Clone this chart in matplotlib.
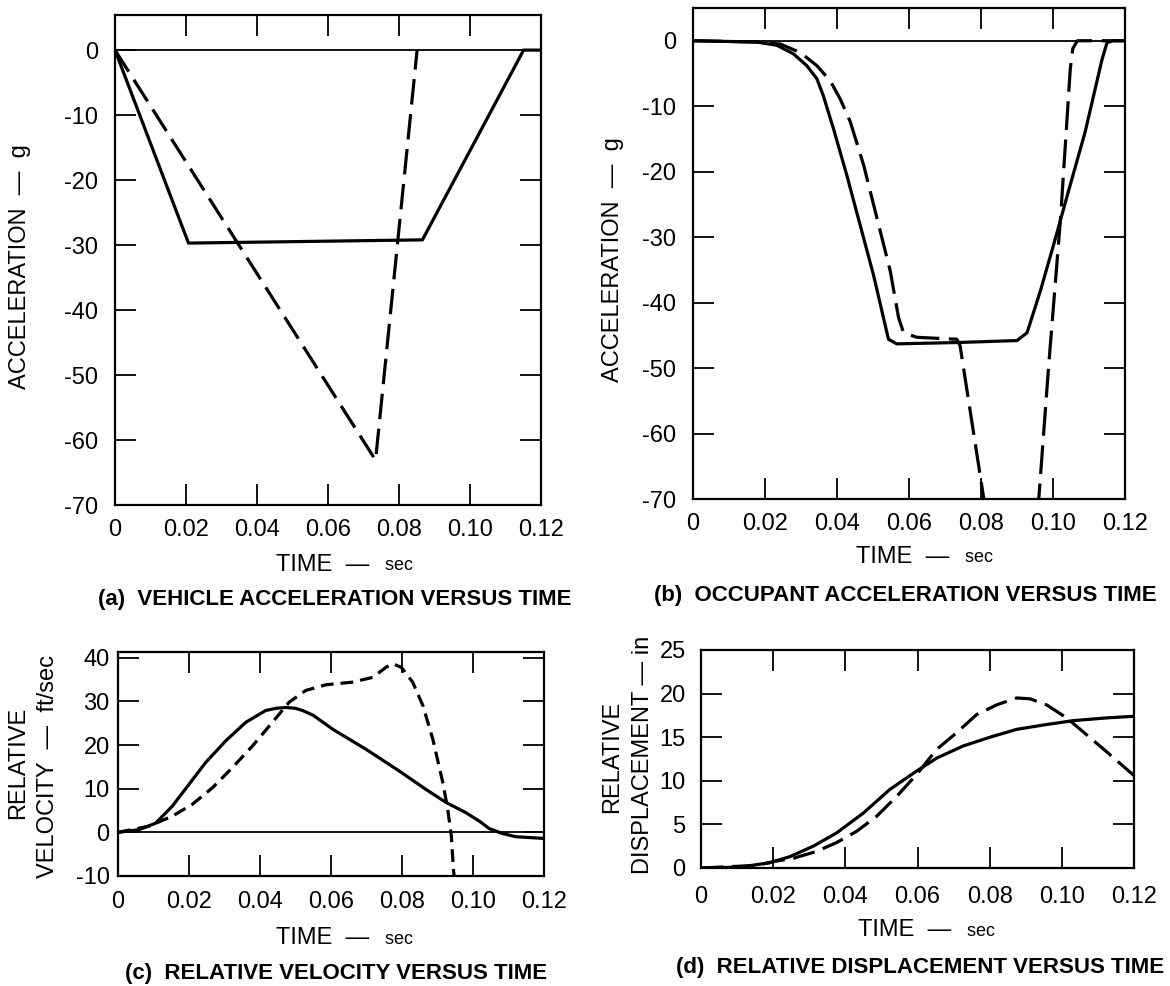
import matplotlib
matplotlib.use("Agg")
import matplotlib.pyplot as plt
import numpy as np

plt.rcParams['font.family'] = ['Liberation Sans', 'DejaVu Sans']

# (a) vehicle acceleration, g
a_t_solid = [0.0, 0.0207, 0.0866, 0.1151, 0.12]
a_y_solid = [0.0, -29.7, -29.2, 0.0, 0.0]
a_t_dash = [0.0, 0.0734, 0.0851]
a_y_dash = [0.0, -63.1, 0.0]

# (b) occupant acceleration, g
b_t_solid = [0.0, 0.0177, 0.0233, 0.0279, 0.0316, 0.0344, 0.0362, 0.039, 0.0427,
             0.0464, 0.0501, 0.0529, 0.0543, 0.0566, 0.0733, 0.09, 0.0928, 0.0965,
             0.1002, 0.1048, 0.1089, 0.1136, 0.115, 0.1165, 0.12]
b_y_solid = [0.0, -0.2, -0.7, -2.0, -3.8, -5.8, -8.4, -13.4, -20.5,
             -28.1, -35.7, -42.3, -45.6, -46.3, -46.1, -45.8, -44.6, -38.2,
             -31.1, -22.0, -14.0, -2.9, -0.3, 0.0, 0.0]
# falling branch of the dashed curve (leaves the axes below -70)
b_t_dash1 = [0.0, 0.0177, 0.0242, 0.0298, 0.0344, 0.0381, 0.0409, 0.0437, 0.0474,
             0.0511, 0.0548, 0.0571, 0.0585, 0.0622, 0.0733, 0.0742, 0.0747, 0.0807,
             0.0812]
b_y_dash1 = [0.0, -0.2, -0.5, -1.8, -3.8, -6.1, -8.9, -12.4, -19.0,
             -27.1, -35.2, -42.3, -44.6, -45.3, -45.6, -46.6, -48.4, -69.7,
             -72.0]
# rising branch of the dashed curve
b_t_dash2 = [0.0955, 0.0961, 0.0988, 0.1021, 0.1048, 0.1055, 0.1068, 0.12]
b_y_dash2 = [-72.0, -69.6, -49.6, -27.1, -4.3, -1.2, 0.0, 0.0]

# (c) relative velocity, ft/sec
c_t_solid = [0.0, 0.0059, 0.0106, 0.0153, 0.02, 0.0247, 0.0304, 0.036, 0.0416,
             0.0445, 0.0473, 0.05, 0.052, 0.055, 0.0605, 0.0699, 0.0793, 0.0868,
             0.0925, 0.098, 0.1019, 0.1045, 0.108, 0.112, 0.12]
c_y_solid = [0.0, 0.6, 2.1, 6.0, 11.0, 16.0, 21.0, 25.2, 27.9,
             28.4, 28.6, 28.4, 27.9, 26.8, 23.6, 19.0, 14.0, 9.8,
             6.8, 4.5, 2.5, 0.9, -0.2, -1.0, -1.4]
c_t_dash = [0.0, 0.0087, 0.0153, 0.0209, 0.0266, 0.0322, 0.0379, 0.0435, 0.0482,
            0.0529, 0.0586, 0.0661, 0.0718, 0.0755, 0.0774, 0.0798, 0.083, 0.0859,
            0.0887, 0.0915, 0.0929, 0.0939, 0.0945, 0.0947]
c_y_dash = [0.0, 1.4, 3.7, 6.4, 10.2, 14.8, 19.8, 25.2, 29.8,
            32.5, 33.8, 34.4, 35.5, 37.8, 38.6, 37.8, 34.4, 29.0,
            21.3, 11.4, 5.2, -0.9, -8.6, -10.0]

# (d) relative displacement, in
d_t_solid = [0.0, 0.0107, 0.019, 0.0246, 0.0311, 0.0375, 0.045, 0.0523, 0.0597,
             0.0653, 0.0727, 0.0801, 0.0875, 0.0949, 0.1032, 0.112, 0.12]
d_y_solid = [0.0, 0.1, 0.6, 1.3, 2.5, 4.0, 6.3, 9.0, 11.1,
             12.6, 14.0, 15.0, 15.9, 16.4, 16.9, 17.2, 17.4]
d_t_dash = [0.0, 0.0154, 0.0209, 0.0255, 0.032, 0.0375, 0.0431, 0.0486, 0.0542,
            0.0597, 0.0653, 0.0708, 0.0764, 0.0819, 0.0875, 0.0912, 0.0958, 0.1014,
            0.1125, 0.12]
d_y_dash = [0.0, 0.3, 0.8, 1.1, 1.9, 2.9, 4.2, 5.9, 8.2,
            10.7, 13.6, 15.5, 17.6, 18.7, 19.5, 19.4, 18.7, 17.2,
            13.3, 10.6]

time_ticks = [0.0, 0.02, 0.04, 0.06, 0.08, 0.10, 0.12]
time_labels = ['0', '0.02', '0.04', '0.06', '0.08', '0.10', '0.12']
acc_ticks = [0, -10, -20, -30, -40, -50, -60, -70]
acc_labels = ['0', '-10', '-20', '-30', '-40', '-50', '-60', '-70']
vel_ticks = [-10, 0, 10, 20, 30, 40]
vel_labels = ['-10', '0', '10', '20', '30', '40']
disp_ticks = [0, 5, 10, 15, 20, 25]
disp_labels = ['0', '5', '10', '15', '20', '25']

W, H = 1170, 986
fig = plt.figure(figsize=(W / 100, H / 100), dpi=100)


def box(l, t, r, b):
    return fig.add_axes([l / W, 1 - b / H, (r - l) / W, (b - t) / H])


def ftext(x, y, s, **kw):
    fig.text(x / W, 1 - y / H, s, **kw)


def style(ax, yt, yl, ylim, ypad, xpad):
    ax.set_xlim(0, 0.12)
    ax.set_ylim(*ylim)
    ax.set_xticks(time_ticks)
    ax.set_xticklabels(time_labels)
    ax.set_yticks(yt)
    ax.set_yticklabels(yl)
    ax.tick_params(direction='in', length=15, width=1.3, top=True, right=True,
                   labelsize=17, colors='black')
    ax.tick_params(axis='y', pad=ypad)
    ax.tick_params(axis='x', pad=xpad)
    for sp in ax.spines.values():
        sp.set_linewidth(1.6)


def xlabel(cx, cy):
    ftext(cx - 1, cy, 'TIME  —', fontsize=17, ha='right', va='center')
    ftext(cx + 10, cy + 1, ' sec', fontsize=13, ha='left', va='center')


cap = dict(fontsize=16, fontweight='bold', ha='center', va='center',
           family=['Liberation Sans Narrow', 'Liberation Sans'])
lw = 2.3

# (a)
ax = box(115, 15, 541, 505)
ax.axhline(0, color='black', lw=1.3)
ax.plot(a_t_solid, a_y_solid, color='black', lw=lw)
ax.plot(a_t_dash, a_y_dash, color='black', lw=lw, dashes=(8, 3))
style(ax, acc_ticks, acc_labels, (-70, 5.4), 12, 10)
ftext(20, 267, 'ACCELERATION  —  g', fontsize=17, rotation=90, ha='center', va='center')
xlabel(370, 565)
ftext(335, 600, '(a)  VEHICLE ACCELERATION VERSUS TIME', **cap)

# (b)
ax = box(693, 8, 1125, 499)
ax.axhline(0, color='black', lw=1.3)
ax.plot(b_t_solid, b_y_solid, color='black', lw=lw)
ax.plot(b_t_dash1, b_y_dash1, color='black', lw=lw, dashes=(9, 3))
ax.plot(b_t_dash2, b_y_dash2, color='black', lw=lw, dashes=(9, 3))
style(ax, acc_ticks, acc_labels, (-70, 5.0), 12, 10)
ftext(613, 260, 'ACCELERATION  —  g', fontsize=17, rotation=90, ha='center', va='center')
xlabel(950, 557)
ftext(905, 595, '(b)  OCCUPANT ACCELERATION VERSUS TIME', **cap)

# (c)
ax = box(118, 652, 544, 876)
ax.axhline(0, color='black', lw=1.3)
ax.plot(c_t_solid, c_y_solid, color='black', lw=lw)
ax.plot(c_t_dash, c_y_dash, color='black', lw=lw, dashes=(4, 2.2))
style(ax, vel_ticks, vel_labels, (-10, 41.3), 6, 11)
ftext(18, 763, 'RELATIVE', fontsize=17, rotation=90, ha='center', va='center')
ftext(48, 767, 'VELOCITY  —  ft/sec', fontsize=17, rotation=90, ha='center', va='center')
xlabel(370, 938)
ftext(336, 973, '(c)  RELATIVE VELOCITY VERSUS TIME', **cap)

# (d)
ax = box(701, 650, 1134, 868)
ax.plot(d_t_solid, d_y_solid, color='black', lw=lw)
ax.plot(d_t_dash, d_y_dash, color='black', lw=lw, dashes=(7, 2.7))
style(ax, disp_ticks, disp_labels, (0, 25), 11, 13)
ftext(612, 757, 'RELATIVE', fontsize=17, rotation=90, ha='center', va='center')
ftext(643, 755, 'DISPLACEMENT — in', fontsize=17, rotation=90, ha='center', va='center')
xlabel(952, 930)
ftext(920, 968, '(d)  RELATIVE DISPLACEMENT VERSUS TIME', **cap)

fig.savefig('out.png', dpi=100)
